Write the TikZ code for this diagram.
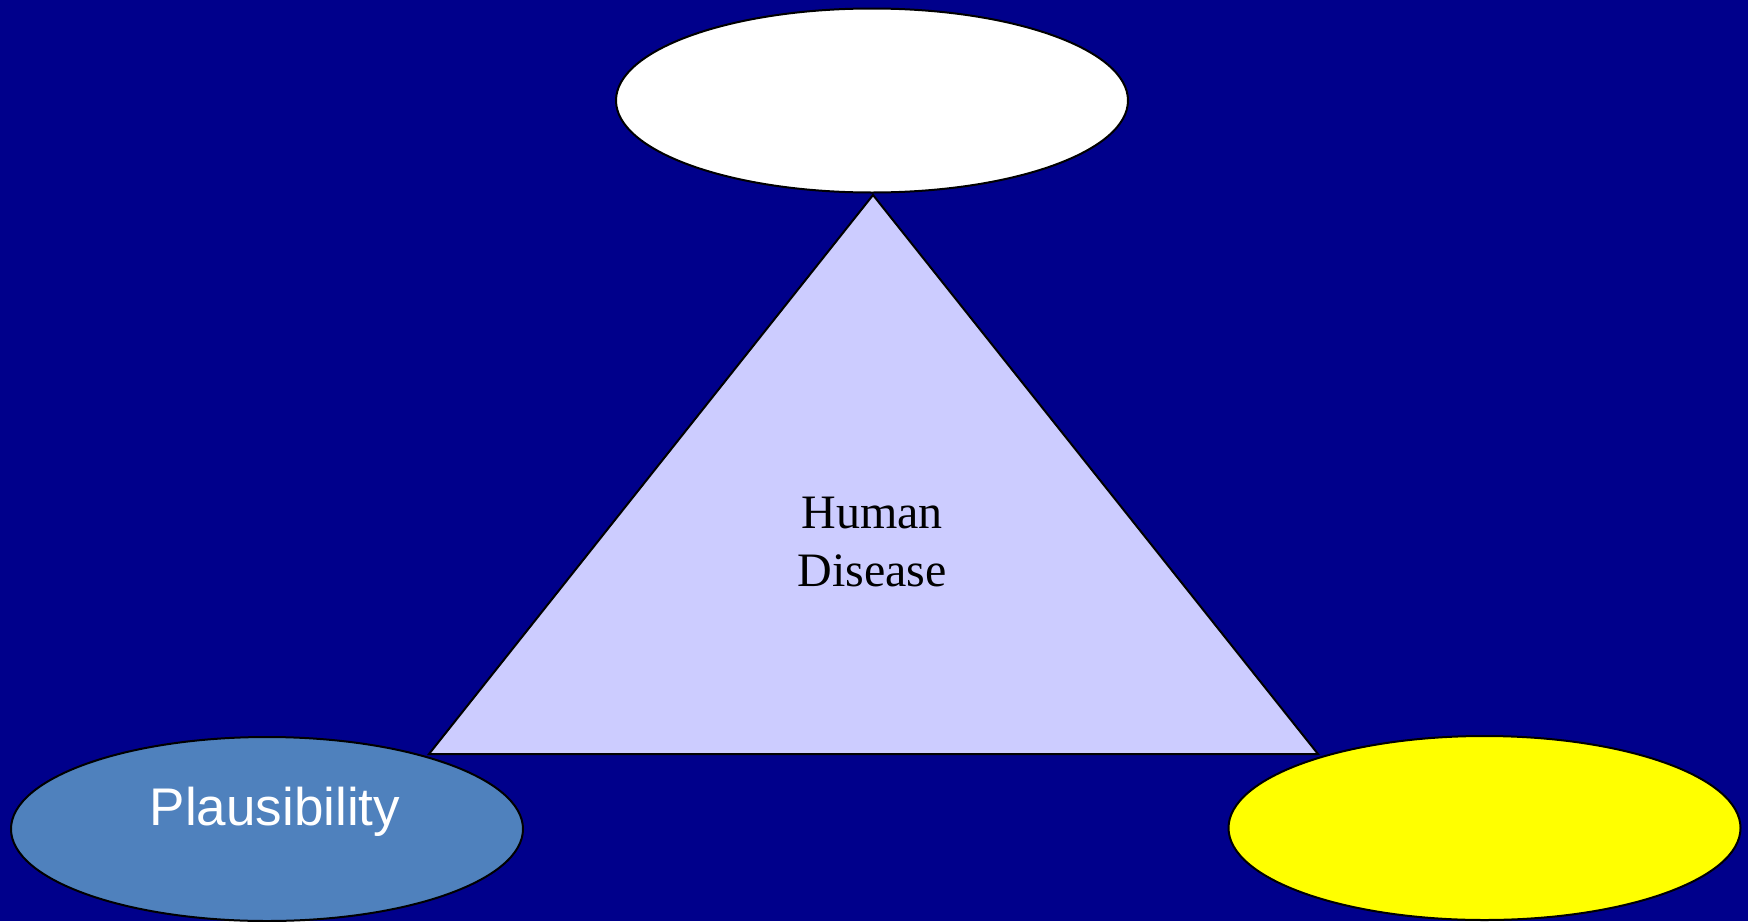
\documentclass[tikz,border=0pt]{standalone}
\usepackage{fontspec}
\setmainfont{Liberation Serif}
\newfontfamily\arialfont{Liberation Sans}
\usetikzlibrary{shapes.geometric}
\definecolor{bgnavy}{RGB}{0,0,139}
\definecolor{trifill}{RGB}{204,204,255}
\definecolor{steel}{RGB}{79,129,189}
\definecolor{yel}{RGB}{255,255,0}
\tikzset{
  oval/.style={ellipse, draw=black, line width=2pt, minimum width=512pt, minimum height=184pt, inner sep=0pt},
  tri/.style={draw=black, line width=2pt, fill=trifill, line join=miter},
}
\begin{document}
\begin{tikzpicture}[x=1pt,y=-1pt]
\fill[bgnavy] (0,0) rectangle (1748,921);
\useasboundingbox (0,0) rectangle (1748,921);
\coordinate (apex) at (873,195);
\coordinate (bl) at (429,754);
\coordinate (br) at (1318,754);
\draw[tri] (apex) -- (bl) -- (br) -- cycle;
\node[inner sep=0pt, align=center, font=\fontsize{48}{58}\selectfont] (hd) at (872,542) {Human\\Disease};
\node[oval, fill=white] (top) at (872,100.5) {};
\node[oval, fill=steel] (left) at (267,829) {};
\node[oval, fill=yel] (right) at (1484.5,828) {};
\node[inner sep=0pt, anchor=base, text=white, font=\arialfont\fontsize{53}{63}\selectfont] (pl) at (275,825) {Plausibility};
\end{tikzpicture}
\end{document}
